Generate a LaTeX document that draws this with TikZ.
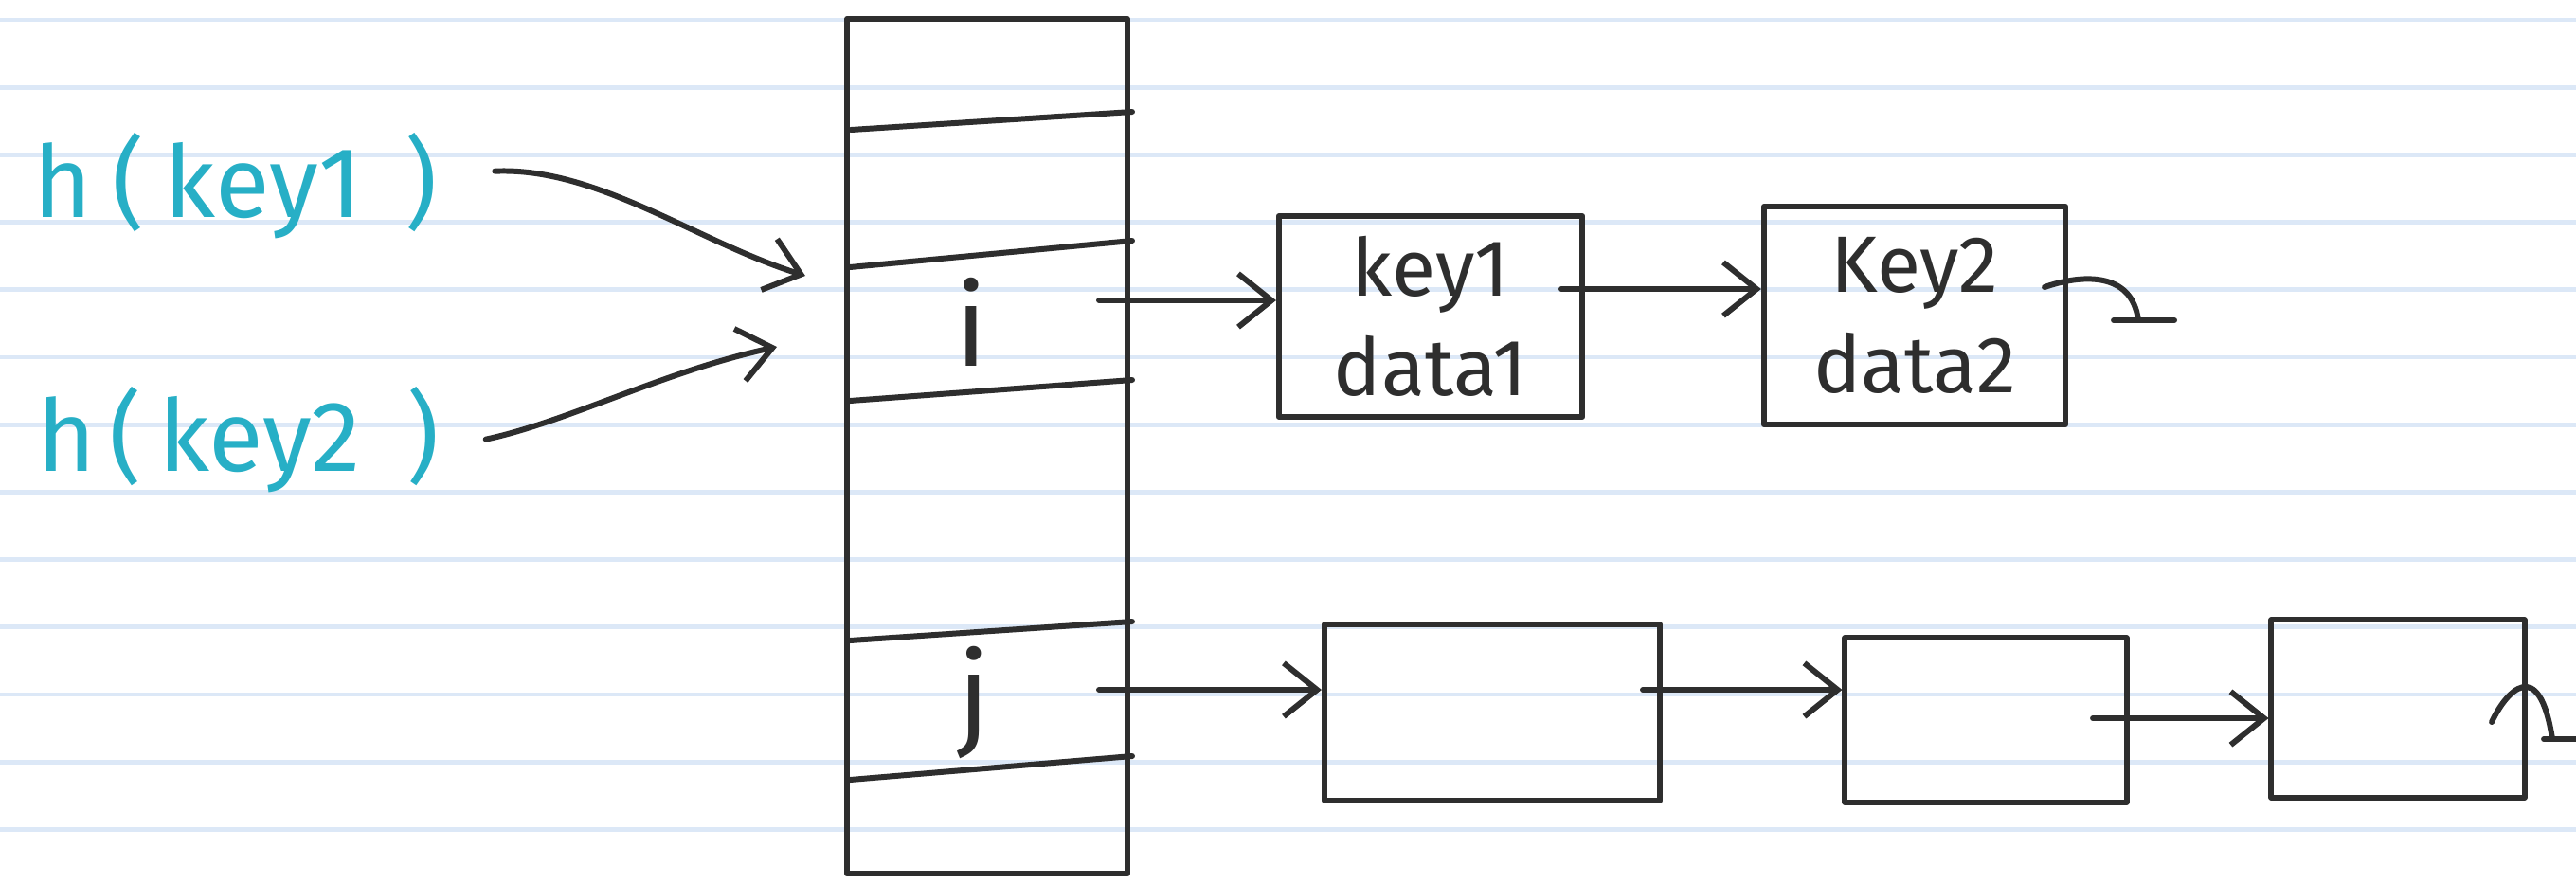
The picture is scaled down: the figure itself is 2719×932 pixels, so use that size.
\documentclass[tikz,border=0pt]{standalone}
\usepackage{fontspec}
\setmainfont{Fira Sans}
\usetikzlibrary{arrows.meta}
\definecolor{ink}{HTML}{2E2E2E}
\definecolor{ruleblue}{HTML}{DCE8F7}
\definecolor{hcol}{HTML}{27AFC6}
\begin{document}
\begin{tikzpicture}[x=0.01cm,y=-0.01cm,
  inkline/.style={draw=ink,line width=1.7pt,line cap=round,line join=round},
  arr/.style={inkline,-{Straight Barb[length=10pt,width=16pt,line width=1.7pt]}},
  ruleline/.style={draw=ruleblue,line width=1.4pt},
  hlbl/.style={text=hcol,font=\fontsize{30}{36}\selectfont,inner sep=0pt},
  cell/.style={text=ink,font=\fontsize{34}{40}\selectfont,inner sep=0pt},
  boxnode/.style={inkline,rectangle,align=center,text=ink,font=\fontsize{24}{30}\selectfont,inner sep=0pt},
  tablebox/.style={inkline,rectangle,minimum width=2.95cm,minimum height=9.02cm,inner sep=0pt}]
\useasboundingbox (0,0) rectangle (2719,932);
\fill[white] (0,0) rectangle (2719,932);
\foreach \k in {0,...,12} \draw[ruleline] (0,{21+71.2*\k}) -- (2719,{21+71.2*\k});
% hash table
\node[tablebox] (table) at (1042,471) {};
\draw[inkline] (898,137) -- (1195,118);
\draw[inkline] (897,282) -- (1195,254);
\draw[inkline] (897,423) -- (1195,401);
\draw[inkline] (897,676) -- (1195,656);
\draw[inkline] (897,823) -- (1195,798);
\node[cell] (ci) at (1025,340) {i};
\node[cell] (cj) at (1028,742) {j};
% hash labels
\node[hlbl,anchor=base west] (k1) at (35,229) {h\hspace{6pt}(\hspace{6pt}key1\hspace{13pt})};
\node[hlbl,anchor=base west] (k2) at (39,497) {h\hspace{4pt}(\hspace{5pt}key2\hspace{14pt})};
\coordinate (t1) at (850,291);
\coordinate (t2) at (820,366);
\draw[arr] ([xshift=0.6cm,yshift=0.15cm]k1.east) .. controls (630,176) and (735,255) .. (t1);
\draw[arr] ([xshift=0.48cm,yshift=0cm]k2.east) .. controls (600,445) and (700,392) .. (t2);
% chain boxes
\node[boxnode,minimum width=3.2cm,minimum height=2.12cm] (b1) at (1510,334) {key1\\data1};
\node[boxnode,minimum width=3.18cm,minimum height=2.3cm] (b2) at (2021,333) {Key2\\data2};
\node[boxnode,minimum width=3.54cm,minimum height=1.85cm] (b3) at (1575,752) {};
\node[boxnode,minimum width=2.97cm,minimum height=1.73cm] (b4) at (2096,760) {};
\node[boxnode,minimum width=2.67cm,minimum height=1.87cm] (b5) at (2531,748) {};
% pointers
\coordinate (ip) at (1160,317);
\coordinate (jp) at (1160,728);
\coordinate (p1) at (1648,305);
\coordinate (p3) at (1734,728);
\coordinate (p4) at (2209,758);
\draw[arr] (ip) -- (ip -| b1.west);
\draw[arr] (p1) -- (p1 -| b2.west);
\draw[arr] (jp) -- (jp -| b3.west);
\draw[arr] (p3) -- (p3 -| b4.west);
\draw[arr] (p4) -- (p4 -| b5.west);
% null terminators
\coordinate (n2) at (2257,338);
\coordinate (n5) at (2694,780);
\draw[inkline] (2158,303) .. controls (2195,290) and (2250,285) .. (n2);
\draw[inkline] (2231,338) -- (2295,338);
\draw[inkline] (2630,762) .. controls (2645,730) and (2680,690) .. (n5);
\draw[inkline] (2685,780) -- (2719,780);
\end{tikzpicture}
\end{document}
